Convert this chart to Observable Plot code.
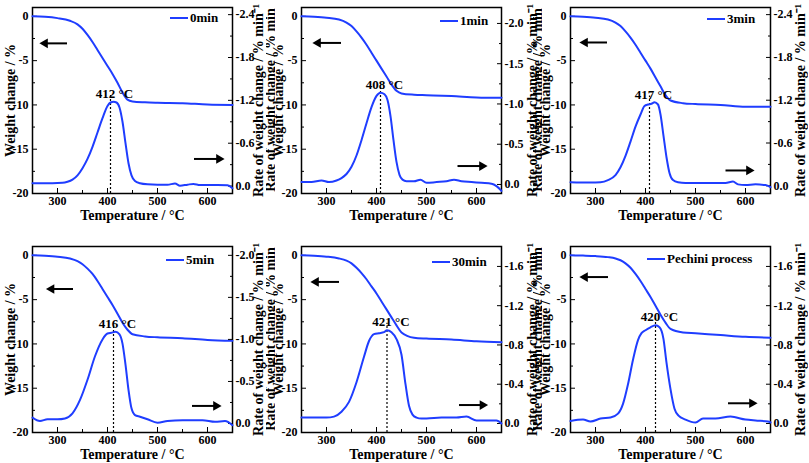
<!DOCTYPE html>
<html><head><meta charset="utf-8">
<script src="https://cdn.jsdelivr.net/npm/d3@7"></script>
<script src="https://cdn.jsdelivr.net/npm/@observablehq/plot@0.6"></script>
<style>
body{margin:0;background:#fff}
#wrap{position:relative;width:809px;height:463px;overflow:hidden;font-family:"Liberation Serif",serif;font-weight:bold}
.panel{position:absolute;width:270px;height:232px}
.panel svg{position:absolute;left:0;top:0}
.legend{position:absolute;display:flex;align-items:center;font-size:13px;white-space:nowrap;transform:translateY(-50%)}
.legend .ln{display:inline-block;width:18px;height:2px;background:#1f3dff;margin-right:2px}
.ghost{position:absolute;overflow:hidden;width:9px;height:200px}
.ghost span{position:absolute;left:50%;top:50%;white-space:nowrap;font-size:14px;transform:translate(-50%,-50%) rotate(-90deg)}
</style>
</head><body><div id="wrap"></div>
<script>
// ---- data ----
const seriesNames = ["0min","1min","3min","5min","30min","Pechini process"];
const peakTemps = [412,408,417,416,421,420];
const peakLineX = [406,408,408,412,421,420];
const labelRate = [-1.27,-1.22,-1.26,-1.17,-1.02,-1.07];

const xMajor = [300,400,500,600];
const xMinor = [350,450,550];
const wMajor = [0,-5,-10,-15,-20];
const wMinor = [-2.5,-7.5,-12.5,-17.5];
const rateMajor = [
  [-2.4,-1.8,-1.2,-0.6,0],
  [-2.0,-1.5,-1.0,-0.5,0],
  [-2.4,-1.8,-1.2,-0.6,0],
  [-2.0,-1.5,-1.0,-0.5,0],
  [-1.6,-1.2,-0.8,-0.4,0],
  [-1.6,-1.2,-0.8,-0.4,0]
];
const rateMinor = [
  [-2.1,-1.5,-0.9,-0.3],
  [-1.75,-1.25,-0.75,-0.25],
  [-2.1,-1.5,-0.9,-0.3],
  [-1.75,-1.25,-0.75,-0.25],
  [-1.4,-1.0,-0.6,-0.2],
  [-1.4,-1.0,-0.6,-0.2]
];
const rateDomain = [
  [0.104,-2.50],[0.112,-2.198],[0.108,-2.50],[0.107,-2.105],[0.092,-1.803],[0.092,-1.803]
];

// weight change (%) vs temperature
const wTemps = [250,275,300,325,340,350,360,370,380,390,400,410,420,430,440,450,475,500,550,600,650];
const weight0  = [0,-0.05,-0.2,-0.5,-0.9,-1.4,-2.1,-2.9,-3.8,-4.7,-5.6,-6.5,-7.5,-8.6,-9.4,-9.6,-9.7,-9.75,-9.8,-9.95,-10.0];
const weight1  = [0,-0.05,-0.15,-0.35,-0.7,-1.1,-1.7,-2.4,-3.2,-4.1,-5.0,-5.9,-6.8,-7.7,-8.4,-8.7,-8.85,-8.9,-9.0,-9.15,-9.2];
const weight3  = [0,-0.05,-0.15,-0.35,-0.7,-1.1,-1.7,-2.4,-3.2,-4.1,-5.0,-5.9,-6.9,-7.9,-8.9,-9.5,-9.8,-9.9,-10.0,-10.2,-10.2];
const weight5  = [0,-0.05,-0.15,-0.35,-0.65,-1.0,-1.5,-2.1,-2.9,-3.8,-4.7,-5.6,-6.6,-7.6,-8.4,-8.9,-9.15,-9.25,-9.35,-9.55,-9.65];
const weight30 = [0,-0.05,-0.15,-0.35,-0.6,-0.9,-1.4,-2.0,-2.7,-3.5,-4.3,-5.2,-6.1,-7.0,-7.9,-8.7,-9.3,-9.4,-9.5,-9.7,-9.8];
const weightP  = [0,-0.03,-0.08,-0.2,-0.35,-0.55,-0.9,-1.4,-2.1,-2.9,-3.8,-4.7,-5.7,-6.7,-7.6,-8.3,-8.7,-8.8,-9.0,-9.2,-9.3];

// rate of weight change (% / min) vs temperature
const rT0 = [250,270,290,310,320,330,340,350,360,370,380,390,400,406,412,418,424,430,436,442,448,455,465,480,500,520,535,545,560,572,585,600,620,640,650];
const rate0 = [-0.04,-0.04,-0.04,-0.045,-0.06,-0.09,-0.15,-0.25,-0.38,-0.55,-0.75,-0.95,-1.12,-1.17,-1.18,-1.17,-1.1,-0.9,-0.6,-0.32,-0.15,-0.07,-0.04,-0.025,-0.02,-0.02,-0.035,-0.005,-0.02,-0.03,-0.015,-0.015,-0.015,-0.01,0.03];
const rT1 = [250,270,290,305,320,330,340,350,360,370,380,390,400,408,416,422,428,434,440,446,452,460,475,488,500,520,540,555,570,590,610,630,640,650];
const rate1 = [-0.03,-0.03,-0.05,-0.03,-0.05,-0.08,-0.13,-0.22,-0.36,-0.55,-0.76,-0.96,-1.1,-1.14,-1.12,-1.05,-0.85,-0.55,-0.28,-0.12,-0.06,-0.04,-0.04,-0.06,-0.02,-0.03,-0.04,-0.06,-0.04,-0.03,-0.02,-0.01,0.02,0.08];
const rT3 = [250,270,290,310,325,340,350,360,370,380,390,398,405,412,418,425,430,436,442,448,455,465,480,500,530,560,575,585,600,620,640,650];
const rate3 = [-0.05,-0.045,-0.045,-0.05,-0.08,-0.15,-0.26,-0.42,-0.62,-0.83,-1.0,-1.12,-1.14,-1.15,-1.17,-1.14,-1.0,-0.7,-0.4,-0.18,-0.08,-0.05,-0.04,-0.04,-0.04,-0.04,-0.06,-0.02,-0.01,-0.02,-0.01,0.02];
const rT5 = [250,265,280,300,315,330,345,360,375,390,400,408,416,424,430,436,442,448,455,465,480,500,520,550,590,615,635,650];
const rate5 = [-0.07,-0.03,-0.05,-0.05,-0.06,-0.12,-0.28,-0.52,-0.8,-1.0,-1.07,-1.08,-1.09,-1.06,-0.95,-0.7,-0.4,-0.18,-0.1,-0.08,-0.05,-0.01,-0.03,-0.04,-0.04,-0.02,-0.03,0.02];
const rT30 = [250,280,300,315,330,345,360,375,385,395,405,415,421,430,440,450,458,465,472,480,490,500,530,560,580,600,620,640,650];
const rate30 = [-0.06,-0.06,-0.06,-0.07,-0.12,-0.22,-0.42,-0.68,-0.84,-0.91,-0.92,-0.93,-0.95,-0.93,-0.86,-0.7,-0.4,-0.18,-0.09,-0.06,-0.05,-0.05,-0.06,-0.06,-0.07,-0.03,-0.03,-0.03,0.0];
const rTP = [250,275,290,310,330,345,355,365,375,385,392,400,410,420,428,436,442,450,458,466,480,500,515,540,570,600,620,645,650];
const rateP = [-0.025,-0.04,-0.02,-0.05,-0.06,-0.1,-0.2,-0.4,-0.65,-0.85,-0.92,-0.95,-0.98,-1.0,-0.98,-0.86,-0.62,-0.35,-0.15,-0.08,-0.04,-0.01,-0.05,-0.05,-0.07,-0.04,-0.03,-0.02,-0.01];

// arrow annotations (tail x -> tip x at weight level y)
const leftArrows  = [[319,269,-3.05],[329,277,-3.0],[323,273,-2.95],[331,282,-3.8],[325,273,-3.0],[325,273,-2.45]];
const rightArrows = [[573,629,-16.1],[562,617,-16.9],[560,613,-17.4],[569,623,-17.0],[565,618,-16.9],[565,619,-16.7]];

const weights = [weight0,weight1,weight3,weight5,weight30,weightP];
const rateTs = [rT0,rT1,rT3,rT5,rT30,rTP];
const rates = [rate0,rate1,rate3,rate5,rate30,rateP];

// ---- layout ----
const W = 270, H = 232, ML = 32, MR = 38, MT = 7, MB = 39;
const panelPos = [[0,0],[269,0],[538,0],[0,239],[269,239],[538,239]];
const leftLabelOff = [22,23,25,22,23,25];
const rightLabelOff = [26,31,30,26,31,30];
const legendPos = [[170,18],[440,20.5],[707,19],[166,260],[432,262],[647,259]];
const ghostPos = [[266,0],[533,0],[266,239],[533,239]];
const BLUE = "#1f3dff";
const FONT = "'Liberation Serif', 'Times New Roman', serif";

const wrap = document.getElementById("wrap");
const common = {
  width: W, height: H, marginLeft: ML, marginRight: MR, marginTop: MT, marginBottom: MB,
  style: {background: "transparent", fontFamily: FONT, fontWeight: "bold", color: "black"}
};

for (let i = 0; i < 6; i++) {
  const div = document.createElement("div");
  div.className = "panel";
  div.style.left = panelPos[i][0] + "px";
  div.style.top = panelPos[i][1] + "px";

  const wData = wTemps.map((t, j) => ({t, v: weights[i][j]}));
  const rData = rateTs[i].map((t, j) => ({t, v: rates[i][j]}));
  const arrows = [
    {x1: leftArrows[i][0], x2: leftArrows[i][1], y: leftArrows[i][2], rot: -90, dx: 3},
    {x1: rightArrows[i][0], x2: rightArrows[i][1], y: rightArrows[i][2], rot: 90, dx: -3}
  ];

  const p1 = Plot.plot({
    ...common,
    x: {domain: [250, 650], axis: null},
    y: {domain: [-20, 1], axis: null},
    marks: [
      Plot.axisX({ticks: xMajor, tickSize: -5, tickPadding: 8, tickFormat: d => String(d), fontSize: 12, label: null}),
      Plot.axisX({ticks: xMinor, tickSize: -3, tickFormat: () => "", label: null}),
      Plot.axisY({ticks: wMajor, tickSize: -5, tickPadding: 9, tickFormat: d => String(d), fontSize: 12, label: null}),
      Plot.axisY({ticks: wMinor, tickSize: -3, tickFormat: () => "", label: null}),
      Plot.frame({stroke: "black", strokeWidth: 1.5}),
      Plot.line(wData, {x: "t", y: "v", stroke: BLUE, strokeWidth: 2, curve: "monotone-x"}),
      Plot.link(arrows, {x1: "x1", x2: "x2", y1: "y", y2: "y", stroke: "black", strokeWidth: 2}),
      Plot.dot(arrows.slice(0, 1), {x: "x2", y: "y", symbol: "triangle", r: 3.6, fill: "black", stroke: "none", rotate: -90, dx: 3}),
      Plot.dot(arrows.slice(1), {x: "x2", y: "y", symbol: "triangle", r: 3.6, fill: "black", stroke: "none", rotate: 90, dx: -3}),
      Plot.text(["Temperature / °C"], {frameAnchor: "bottom", dy: 26, fontSize: 14, textAnchor: "middle"}),
      Plot.text(["Weight change / %"], {frameAnchor: "left", dx: -leftLabelOff[i], rotate: -90, fontSize: 14, textAnchor: "middle"})
    ]
  });

  const peak = [{x: peakLineX[i], y1: rateDomain[i][0], y2: labelRate[i], label: `${peakTemps[i]} °C`}];
  const p2 = Plot.plot({
    ...common,
    x: {domain: [250, 650], axis: null},
    y: {domain: rateDomain[i], axis: null},
    marks: [
      Plot.axisY({anchor: "right", ticks: rateMajor[i], tickSize: -5, tickPadding: 8, tickFormat: d => d.toFixed(1), fontSize: 12, label: null}),
      Plot.axisY({anchor: "right", ticks: rateMinor[i], tickSize: -3, tickFormat: () => "", label: null}),
      Plot.ruleX(peak, {x: "x", y1: "y1", y2: "y2", stroke: "black", strokeWidth: 1.2, strokeDasharray: "2,2"}),
      Plot.line(rData, {x: "t", y: "v", stroke: BLUE, strokeWidth: 2, curve: "monotone-x"}),
      Plot.text(peak, {x: "x", y: "y2", text: "label", lineAnchor: "bottom", dx: 4, dy: 3, fontSize: 13}),
      Plot.text(["Rate of weight change / % min⁻¹"], {frameAnchor: "right", dx: rightLabelOff[i], rotate: -90, fontSize: 14, textAnchor: "middle"})
    ]
  });

  div.appendChild(p1);
  div.appendChild(p2);
  wrap.appendChild(div);

  const lg = document.createElement("div");
  lg.className = "legend";
  lg.style.left = legendPos[i][0] + "px";
  lg.style.top = legendPos[i][1] + "px";
  lg.innerHTML = `<span class="ln"></span><span>${seriesNames[i]}</span>`;
  wrap.appendChild(lg);
}

// partially hidden duplicate axis titles between panels (as in the reference composite)
for (const [gx, gy] of ghostPos) {
  const g = document.createElement("div");
  g.className = "ghost";
  g.style.left = gx + "px";
  g.style.top = gy + "px";
  g.innerHTML = `<span>Rate of weight change / % min</span>`;
  wrap.appendChild(g);
}
</script>
</body></html>
